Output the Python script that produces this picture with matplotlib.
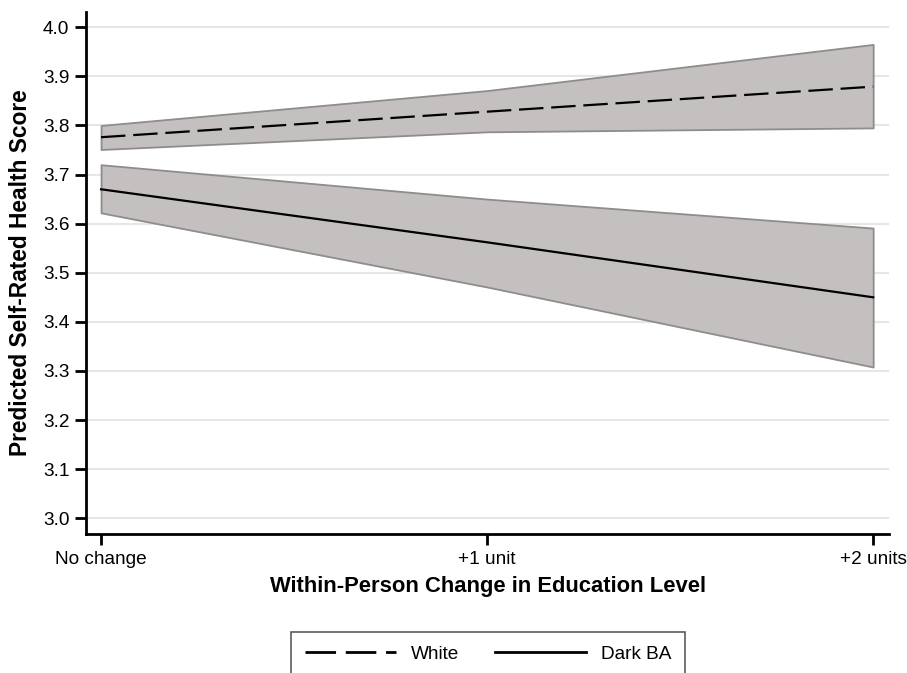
import matplotlib
matplotlib.use("Agg")
import matplotlib.pyplot as plt
import numpy as np

plt.rcParams['font.family'] = ['Liberation Sans', 'DejaVu Sans']

categories = ["No change", "+1 unit", "+2 units"]
white_mean = [3.776, 3.828, 3.879]
white_low = [3.751, 3.787, 3.795]
white_high = [3.800, 3.871, 3.965]
dark_mean = [3.670, 3.562, 3.450]
dark_low = [3.622, 3.471, 3.308]
dark_high = [3.720, 3.650, 3.591]
yticks = [3.0, 3.1, 3.2, 3.3, 3.4, 3.5, 3.6, 3.7, 3.8, 3.9, 4.0]

fig = plt.figure(figsize=(9.07, 6.73), dpi=100)
ax = fig.add_axes([86/907, 1-534/673, (889-86)/907, (534-12)/673])

x = np.arange(len(categories))

for g in yticks:
    ax.axhline(g, color='#e6e6e6', lw=1.5, zorder=0)

fill_c = '#c4c0bf'
edge_c = '#8e8c8c'
ax.fill_between(x, white_low, white_high, facecolor=fill_c, edgecolor=edge_c, lw=1.3, zorder=1)
ax.fill_between(x, dark_low, dark_high, facecolor=fill_c, edgecolor=edge_c, lw=1.3, zorder=1)

ax.plot(x, white_mean, color='black', lw=1.6, dashes=(11, 3.5), label='White', zorder=3)
ax.plot(x, dark_mean, color='black', lw=1.6, label='Dark BA', zorder=3)

ax.set_xlim(-0.039, 2.041)
ax.set_ylim(2.968, 4.031)
ax.set_xticks(x)
ax.set_xticklabels(categories)
ax.set_yticks(yticks)
ax.set_yticklabels([f"{v:.1f}" for v in yticks])

for s in ['top', 'right']:
    ax.spines[s].set_visible(False)
for s in ['left', 'bottom']:
    ax.spines[s].set_linewidth(2)
ax.tick_params(axis='both', direction='out', length=8, width=2, labelsize=13.7, pad=4)

ax.set_ylabel('Predicted Self-Rated Health Score', fontsize=16.4, fontweight='bold', labelpad=8)
ax.set_xlabel('Within-Person Change in Education Level', fontsize=15.8, fontweight='bold', labelpad=6)

leg = fig.legend(loc='upper center', bbox_to_anchor=(488/907, 1-632/673), ncol=2,
                 fontsize=13.7, handlelength=4.8, handletextpad=0.8, columnspacing=1.85,
                 frameon=True, fancybox=False, edgecolor='#333333', borderpad=0.7, borderaxespad=0)
leg.get_frame().set_linewidth(1.2)
for l in leg.get_lines():
    l.set_linewidth(2)

fig.savefig('out.png', dpi=100)
